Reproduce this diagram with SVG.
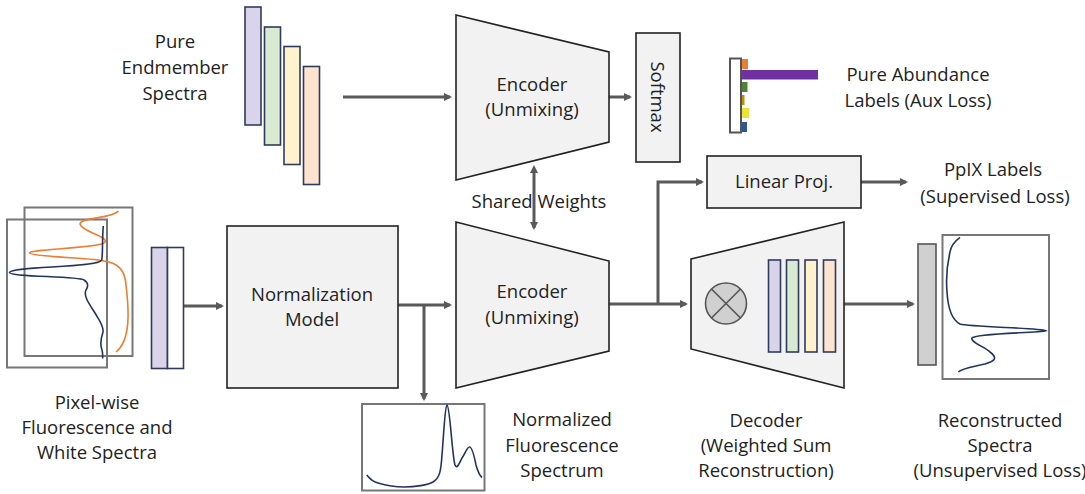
<svg xmlns="http://www.w3.org/2000/svg" width="1085" height="494" viewBox="0 0 1085 494">
<defs>
<style>
.t{font-family:"Open Sans","Liberation Sans",sans-serif;font-size:18.5px;fill:#222;text-anchor:middle}
.box{fill:#f2f2f2;stroke:#222;stroke-width:1.6}
.ln{fill:none;stroke:#595959;stroke-width:3}
.frame{fill:#fff;stroke:#777;stroke-width:2}
.bar{stroke:#2f3b5c;stroke-width:1.6}
.navy{fill:none;stroke:#22335e;stroke-width:1.6}
.org{fill:none;stroke:#ed7d31;stroke-width:1.6}
</style>
<marker id="ah" markerWidth="8" markerHeight="8" refX="6" refY="4" orient="auto" markerUnits="userSpaceOnUse" viewBox="0 0 8 8">
<path d="M0,0 L8,4 L0,8 z" fill="#595959"/>
</marker>
<marker id="ahs" markerWidth="8" markerHeight="8" refX="2" refY="4" orient="auto-start-reverse" markerUnits="userSpaceOnUse" viewBox="0 0 8 8">
<path d="M0,0 L8,4 L0,8 z" fill="#595959"/>
</marker>
</defs>
<rect width="1085" height="494" fill="#fff"/>

<g id="connectors">
<path class="ln" d="M343,97 H450" marker-end="url(#ah)"/>
<path class="ln" d="M609,97 H630" marker-end="url(#ah)"/>
<path class="ln" d="M534,171 V228" marker-start="url(#ahs)" marker-end="url(#ah)"/>
<path class="ln" d="M184,306 H222" marker-end="url(#ah)"/>
<path class="ln" d="M398,305 H450" marker-end="url(#ah)"/>
<path class="ln" d="M424,305 V399" marker-end="url(#ah)"/>
<path class="ln" d="M609,304 H686" marker-end="url(#ah)"/>
<path class="ln" d="M658,304 V182 H702" marker-end="url(#ah)"/>
<path class="ln" d="M861,182 H906" marker-end="url(#ah)"/>
<path class="ln" d="M844,304 H913" marker-end="url(#ah)"/>
</g>

<g id="pure-endmember">
<rect class="bar" x="245" y="7" width="16" height="118" fill="#dad4ea"/>
<rect class="bar" x="264.5" y="27" width="16" height="118" fill="#d9ead3"/>
<rect class="bar" x="284" y="46.5" width="16" height="118" fill="#fff2cc"/>
<rect class="bar" x="303.5" y="66.5" width="16" height="118" fill="#fce4d0"/>
<text class="t" x="175" y="48">Pure</text>
<text class="t" x="175" y="74">Endmember</text>
<text class="t" x="175" y="100">Spectra</text>
</g>

<g id="encoder-top">
<path class="box" d="M456,15 L609,52 L609,142 L456,180 Z"/>
<text class="t" x="532" y="91">Encoder</text>
<text class="t" x="532" y="116">(Unmixing)</text>
</g>

<g id="softmax">
<rect class="box" x="636" y="33" width="44" height="129"/>
<text class="t" transform="translate(651,97) rotate(90)" y="0">Softmax</text>
</g>

<g id="pure-abundance">
<rect x="730" y="58.5" width="11" height="74" fill="#fff" stroke="#555" stroke-width="2"/>
<rect x="742" y="59" width="6" height="10" fill="#ed7d31"/>
<rect x="741" y="70" width="77" height="9.5" fill="#7030a0"/>
<rect x="742" y="82" width="5.5" height="10" fill="#548235"/>
<rect x="742" y="95" width="2.5" height="10" fill="#bf9000"/>
<rect x="742" y="108" width="7" height="10" fill="#ede337"/>
<rect x="742" y="122" width="5" height="10" fill="#2f5597"/>
<text class="t" x="918" y="81">Pure Abundance</text>
<text class="t" x="918" y="107">Labels (Aux Loss)</text>
</g>

<g id="shared-weights">
<text class="t" x="539" y="208">Shared Weights</text>
</g>

<g id="pixel-input">
<rect class="frame" x="24.5" y="207.5" width="108" height="148.5"/>
<rect class="frame" x="7" y="219.5" width="100" height="148" style="fill:none"/>
<path class="org" d="M118.3,211 C112,219 80,217 80,224 C82,232 108,236 105,242 C103,248 30,249 29.5,253 C31,257 98,258 104,261 C118,263 125,270 126,285 C129,310 131,340 116,352"/>
<path class="navy" d="M103.3,226 C102,240 103,255 101.7,260 C99,268 12,266 9.5,272.5 C10,277 78,276 84,280 C89,283 88,287 86,290 C83,296 90,305 95,313 C99,320 104,326 103,332 C101,338 100,345 102,350 C103,354 102.5,356 102.7,358.5"/>
<rect class="bar" x="151.5" y="247.5" width="16" height="121" fill="#dad4ea"/>
<rect class="bar" x="167.5" y="247.5" width="16" height="121" fill="#fff"/>
<text class="t" x="97" y="409">Pixel-wise</text>
<text class="t" x="97" y="434">Fluorescence and</text>
<text class="t" x="97" y="459">White Spectra</text>
</g>

<g id="normalization-model">
<rect class="box" x="227" y="226" width="171" height="162"/>
<text class="t" x="312" y="301">Normalization</text>
<text class="t" x="312" y="326">Model</text>
</g>

<g id="normalized-spectrum">
<rect class="frame" x="362" y="404" width="122.5" height="86.5"/>
<path class="navy" d="M366.7,475 C370,479 373,482 378,483 C388,486 398,487 404,487 C415,487 428,485 433,482 C440,478 441,470 442,455 C444,430 445,406 447,405 C450,406 452,455 455,465 C457,470 460,462 462,458 C465,454 467,447 469.5,447 C472,447 474,455 476,465 C478,472 480,476 482,477.5"/>
<text class="t" x="562" y="426">Normalized</text>
<text class="t" x="562" y="452">Fluorescence</text>
<text class="t" x="562" y="477">Spectrum</text>
</g>

<g id="encoder-bottom">
<path class="box" d="M456,222 L609,261 L609,351 L456,388 Z"/>
<text class="t" x="532" y="298">Encoder</text>
<text class="t" x="532" y="324">(Unmixing)</text>
</g>

<g id="linear-proj">
<rect class="box" x="707" y="156" width="154" height="52"/>
<text class="t" x="784" y="188">Linear Proj.</text>
</g>

<g id="ppix-labels">
<text class="t" x="993" y="176">PpIX Labels</text>
<text class="t" x="995" y="203">(Supervised Loss)</text>
</g>

<g id="decoder">
<path class="box" d="M691,259 L844,222 L844,388 L691,349 Z"/>
<circle cx="726" cy="303.5" r="20.5" fill="#d0d0d0" stroke="#555" stroke-width="1.6"/>
<path d="M711.5,289 L740.5,318 M740.5,289 L711.5,318" stroke="#555" stroke-width="1.6"/>
<rect class="bar" x="768.5" y="260" width="12" height="92" fill="#dad4ea"/>
<rect class="bar" x="786.5" y="260" width="12" height="92" fill="#d9ead3"/>
<rect class="bar" x="805" y="260" width="12" height="92" fill="#fff2cc"/>
<rect class="bar" x="823.5" y="260" width="12" height="92" fill="#fce4d0"/>
<text class="t" x="766" y="427">Decoder</text>
<text class="t" x="766" y="452">(Weighted Sum</text>
<text class="t" x="766" y="477">Reconstruction)</text>
</g>

<g id="reconstructed">
<rect x="918" y="244" width="18" height="121" fill="#d0d0d0" stroke="#555" stroke-width="1.6"/>
<rect class="frame" x="942.5" y="235" width="106.5" height="144"/>
<path class="navy" d="M960,237.3 C955,241 951,245 950,252 C947,265 946,280 947,292 C948,308 952,320 960,324 C970,327 1040,328 1045.7,330.7 C1040,333 975,333 972,338 C970,342 985,347 990,352 C998,358 995,361 985,364 C972,367 962,368 958.3,372"/>
<text class="t" x="1000" y="427">Reconstructed</text>
<text class="t" x="1000" y="452">Spectra</text>
<text class="t" x="1000" y="477">(Unsupervised Loss)</text>
</g>
</svg>
